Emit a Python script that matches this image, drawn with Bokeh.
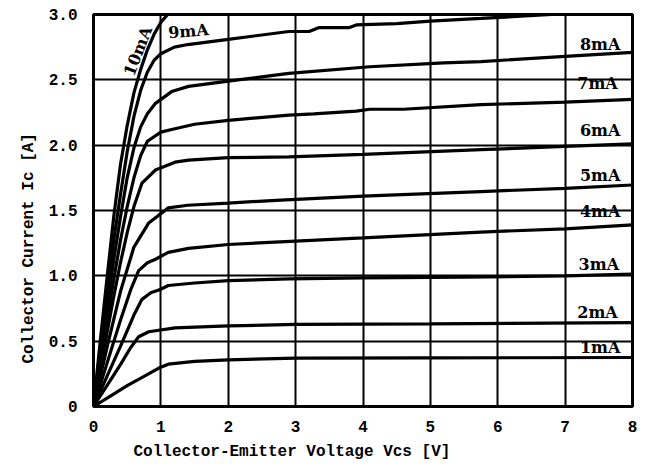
from bokeh.plotting import figure
from bokeh.models import Range1d, FixedTicker, ColumnDataSource, Title
from bokeh.embed import file_html
from bokeh.resources import INLINE
from bokeh.core.properties import value

# ---------------- data ----------------
x_ticks = [0, 1, 2, 3, 4, 5, 6, 7, 8]
y_ticks = [0, 0.5, 1.0, 1.5, 2.0, 2.5, 3.0]
y_tick_labels = {0: "0", 0.5: "0.5", 1.0: "1.0", 1.5: "1.5", 2.0: "2.0", 2.5: "2.5", 3.0: "3.0"}

curve_names = ["1mA", "2mA", "3mA", "4mA", "5mA", "6mA", "7mA", "8mA", "9mA", "10mA"]

vce_1mA = [0, 0.25, 0.5, 0.75, 0.97, 1.11, 1.5, 2.0, 3.0, 5.0, 8.0]
ic_1mA = [0, 0.08, 0.16, 0.23, 0.294, 0.324, 0.345, 0.357, 0.37, 0.372, 0.375]

vce_2mA = [0, 0.2, 0.4, 0.55, 0.67, 0.82, 1.21, 2.0, 3.0, 5.0, 8.0]
ic_2mA = [0, 0.16, 0.32, 0.45, 0.534, 0.572, 0.602, 0.617, 0.628, 0.632, 0.642]

vce_3mA = [0, 0.2, 0.4, 0.6, 0.72, 0.85, 0.99, 1.11, 1.5, 2.0, 2.9, 4.0, 5.5, 7.0, 8.0]
ic_3mA = [0, 0.23, 0.46, 0.70, 0.82, 0.87, 0.895, 0.926, 0.945, 0.963, 0.976, 0.985, 0.99, 1.0, 1.013]

vce_4mA = [0, 0.2, 0.4, 0.55, 0.67, 0.8, 0.92, 1.11, 1.41, 2.0, 3.0, 4.0, 5.75, 7.0, 8.0]
ic_4mA = [0, 0.33, 0.66, 0.89, 1.04, 1.10, 1.127, 1.18, 1.21, 1.24, 1.265, 1.29, 1.335, 1.36, 1.39]

vce_5mA = [0, 0.2, 0.4, 0.6, 0.82, 1.11, 1.4, 2.0, 2.78, 4.0, 5.75, 7.0, 8.0]
ic_5mA = [0, 0.45, 0.88, 1.22, 1.405, 1.52, 1.54, 1.557, 1.58, 1.61, 1.645, 1.67, 1.695]

vce_6mA = [0, 0.1, 0.2, 0.3, 0.4, 0.5, 0.6, 0.72, 0.92, 1.21, 1.41, 2.0, 2.9, 4.0, 5.75, 7.0, 8.0]
ic_6mA = [0, 0.28, 0.56, 0.84, 1.10, 1.33, 1.53, 1.71, 1.81, 1.87, 1.885, 1.905, 1.91, 1.93, 1.966, 1.99, 2.01]

vce_7mA = [0, 0.1, 0.2, 0.3, 0.4, 0.5, 0.6, 0.7, 0.8, 1.0, 1.16, 1.5, 2.0, 2.9, 3.27, 3.9, 4.1, 4.6, 5.75, 7.0, 8.0]
ic_7mA = [0, 0.33, 0.66, 0.97, 1.27, 1.53, 1.75, 1.92, 2.03, 2.10, 2.12, 2.16, 2.19, 2.23, 2.24, 2.26, 2.275, 2.275, 2.31, 2.33, 2.35]

vce_8mA = [0, 0.1, 0.2, 0.3, 0.4, 0.5, 0.6, 0.7, 0.8, 0.92, 1.16, 1.41, 2.0, 2.9, 4.1, 5.2, 5.75, 7.0, 8.0]
ic_8mA = [0, 0.38, 0.76, 1.12, 1.45, 1.75, 1.98, 2.14, 2.24, 2.32, 2.41, 2.45, 2.49, 2.55, 2.60, 2.63, 2.64, 2.68, 2.71]

vce_9mA = [0, 0.1, 0.2, 0.3, 0.4, 0.5, 0.6, 0.7, 0.8, 0.9, 1.0, 1.2, 1.4, 2.0, 2.9, 3.2, 3.35, 3.8, 3.9, 4.5, 5.0, 5.75, 6.8, 7.0]
ic_9mA = [0, 0.42, 0.85, 1.27, 1.62, 1.95, 2.22, 2.42, 2.56, 2.65, 2.70, 2.75, 2.77, 2.81, 2.87, 2.87, 2.90, 2.90, 2.92, 2.93, 2.95, 2.97, 3.0, 3.0]

vce_10mA = [0, 0.1, 0.2, 0.3, 0.4, 0.5, 0.6, 0.7, 0.8, 0.9, 1.0, 1.1]
ic_10mA = [0, 0.5, 0.98, 1.45, 1.85, 2.15, 2.40, 2.58, 2.73, 2.85, 2.94, 3.0]

curves_x = [vce_1mA, vce_2mA, vce_3mA, vce_4mA, vce_5mA, vce_6mA, vce_7mA, vce_8mA, vce_9mA, vce_10mA]
curves_y = [ic_1mA, ic_2mA, ic_3mA, ic_4mA, ic_5mA, ic_6mA, ic_7mA, ic_8mA, ic_9mA, ic_10mA]

x_title = "Collector-Emitter Voltage Vcs [V]"
y_title = "Collector Current Ic [A]"

# ---------------- figure ----------------
FONT = "Liberation Mono"
LABEL_FONT = "DejaVu Serif"

p = figure(width=640, height=466, output_backend="svg", toolbar_location=None,
           x_range=Range1d(0, 8), y_range=Range1d(0, 3),
           min_border_left=93, min_border_right=8, min_border_top=14, min_border_bottom=60)

p.background_fill_color = "white"
p.border_fill_color = "white"
p.outline_line_color = "black"
p.outline_line_width = 3

for ax in (p.xaxis, p.yaxis):
    ax.axis_line_color = None
    ax.major_tick_line_color = None
    ax.minor_tick_line_color = None
    ax.major_label_text_font = FONT
    ax.major_label_text_font_style = "bold"
    ax.major_label_text_font_size = "16px"
    ax.major_label_text_color = "black"

p.xaxis.ticker = FixedTicker(ticks=x_ticks)
p.yaxis.ticker = FixedTicker(ticks=y_ticks)
p.yaxis.major_label_overrides = y_tick_labels
p.xaxis.major_label_standoff = 8
p.yaxis.major_label_standoff = 10

p.add_layout(Title(text=x_title, align="left", offset=40, standoff=12,
                   text_font=FONT, text_font_style="bold", text_font_size="16px",
                   text_color="black"), "below")
p.add_layout(Title(text=y_title, align="left", offset=43, standoff=16,
                   text_font=FONT, text_font_style="bold", text_font_size="16px",
                   text_color="black"), "left")

p.xgrid.ticker = FixedTicker(ticks=x_ticks)
p.ygrid.ticker = FixedTicker(ticks=y_ticks)
for g in (p.xgrid, p.ygrid):
    g.grid_line_color = "black"
    g.grid_line_width = 2
    g.grid_line_alpha = 1.0

for xs, ys in zip(curves_x, curves_y):
    p.line(xs, ys, line_color="black", line_width=3.2)

# curve labels
lab_src = ColumnDataSource(dict(
    x=[7.22, 7.18, 7.2, 7.22, 7.22, 7.22, 7.18, 7.22],
    y=[0.45, 0.716, 1.087, 1.49, 1.765, 2.11, 2.47, 2.77],
    t=curve_names[:8],
))
p.text(x="x", y="y", text="t", source=lab_src, text_font=value(LABEL_FONT),
       text_font_style="bold", text_font_size="16px", text_color="black",
       text_baseline="middle", text_align="left")

p.text(x=[1.11], y=[2.86], text=[curve_names[8]], angle=0.08,
       text_font=value(LABEL_FONT), text_font_style="bold", text_font_size="16px",
       text_color="black", text_baseline="middle", text_align="left")
p.text(x=[0.66], y=[2.72], text=[curve_names[9]], angle=1.2,
       text_font=value(LABEL_FONT), text_font_style="bold", text_font_size="16px",
       text_color="black", text_baseline="middle", text_align="center")

open("out.html", "w").write(file_html(p, INLINE))
